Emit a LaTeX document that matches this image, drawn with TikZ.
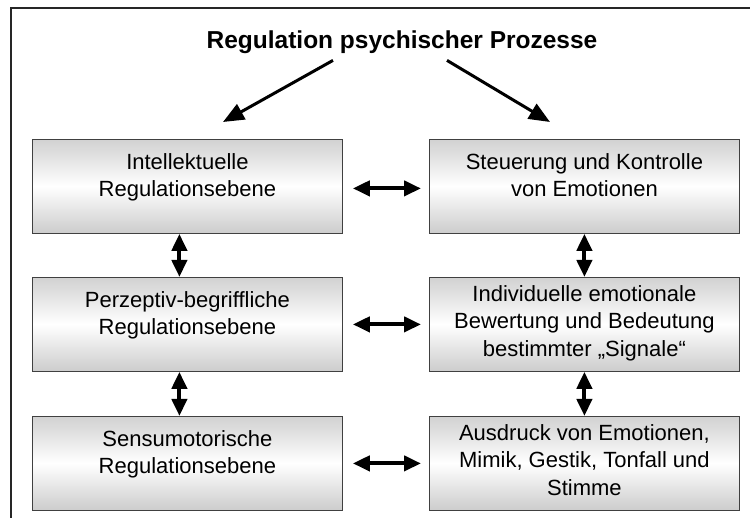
\documentclass[tikz,border=0pt]{standalone}
\usepackage{fontspec}
\setmainfont{Liberation Sans}
\usetikzlibrary{arrows.meta}
\begin{document}
\begin{tikzpicture}[x=1pt,y=-1pt,
  panel/.style={draw=black!75, line width=0.8pt, top color=black!18,
    bottom color=black!20, middle color=white, minimum width=310pt,
    minimum height=94pt, inner sep=0pt, anchor=north west},
  paneltext/.style={anchor=north, align=center, inner sep=0pt,
    font=\fontsize{22}{27.5}\selectfont},
  link/.style={line width=4pt,
    {Triangle[length=17pt,width=15pt]}-{Triangle[length=17pt,width=15pt]}},
  feed/.style={line width=3pt, -{Triangle[length=21pt,width=17pt]}}]

\useasboundingbox (0,0) rectangle (750,518);
\clip (0,0) rectangle (750,518);

% outer frame
\draw[line width=2pt, black!85] (11,8) rectangle (800,600);

% heading
\node[anchor=base, inner sep=0pt, font=\bfseries\fontsize{24.5}{30}\selectfont]
  (title) at (402,49) {Regulation psychischer Prozesse};

% panels
\node[panel] (b1) at (32,139) {};
\node[panel] (b2) at (429,139) {};
\node[panel] (b3) at (32,277) {};
\node[panel] (b4) at (429,277) {};
\node[panel] (b5) at (32,416) {};
\node[panel] (b6) at (429,416) {};

\node[paneltext] (t1) at ([yshift=-14pt]b1.north) {Intellektuelle\\Regulationsebene};
\node[paneltext] (t2) at ([yshift=-14pt]b2.north) {Steuerung und Kontrolle\\von Emotionen};
\node[paneltext] (t3) at ([yshift=-14pt]b3.north) {Perzeptiv-begriffliche\\Regulationsebene};
\node[paneltext] (t4) at ([yshift=-8pt]b4.north) {Individuelle emotionale\\Bewertung und Bedeutung\\bestimmter „Signale“};
\node[paneltext] (t5) at ([yshift=-14pt]b5.north) {Sensumotorische\\Regulationsebene};
\node[paneltext] (t6) at ([yshift=-8pt]b6.north) {Ausdruck von Emotionen,\\Mimik, Gestik, Tonfall und\\Stimme};

% arrows from the heading
\coordinate (pl) at (223,122);
\coordinate (pr) at (550,122);
\draw[feed] ([shift={(-69pt,-6pt)}]title.south) -- (pl);
\draw[feed] ([shift={(45pt,-6pt)}]title.south) -- (pr);

% horizontal links
\draw[link] ([xshift=10pt,yshift=-2pt]b1.east) -- ([xshift=-8pt,yshift=-2pt]b2.west);
\draw[link] ([xshift=10pt]b3.east) -- ([xshift=-8pt]b4.west);
\draw[link] ([xshift=10pt]b5.east) -- ([xshift=-8pt]b6.west);

% vertical links
\draw[link] ([xshift=-8pt]b1.south) -- ([xshift=-8pt]b3.north);
\draw[link] ([xshift=-8pt]b3.south) -- ([xshift=-8pt]b5.north);
\draw[link] (b2.south) -- (b4.north);
\draw[link] (b4.south) -- (b6.north);
\end{tikzpicture}
\end{document}
